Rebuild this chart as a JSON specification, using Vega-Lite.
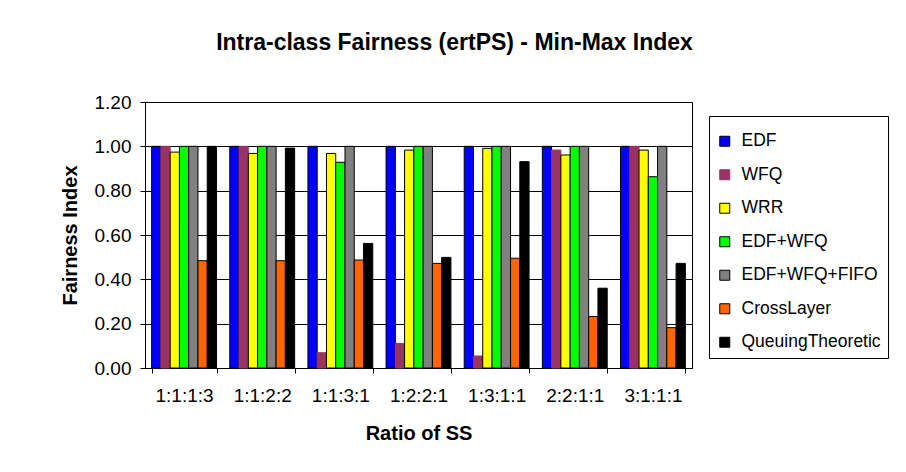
{
  "$schema": "https://vega.github.io/schema/vega-lite/v6.json",
  "autosize": {"type": "none"},
  "width": 547,
  "height": 266,
  "padding": {"left": 145, "top": 102, "right": 214, "bottom": 104},
  "background": "white",
  "title": {
    "text": "Intra-class Fairness (ertPS) - Min-Max Index",
    "font": "Liberation Sans",
    "fontSize": 23,
    "fontWeight": "bold",
    "color": "black",
    "anchor": "middle",
    "dx": 36,
    "offset": 38
  },
  "config": {
    "view": {"stroke": "black", "strokeWidth": 1},
    "axis": {
      "labelFont": "Liberation Sans",
      "titleFont": "Liberation Sans",
      "labelFontSize": 19,
      "titleFontSize": 20,
      "labelColor": "black",
      "titleColor": "black",
      "domainColor": "black",
      "tickColor": "black",
      "gridColor": "black",
      "gridOpacity": 1
    }
  },
  "data": {
    "values": [
      {"ratio": "1:1:1:3", "alg": "EDF", "v": 1.0},
      {"ratio": "1:1:1:3", "alg": "WFQ", "v": 1.0},
      {"ratio": "1:1:1:3", "alg": "WRR", "v": 0.974},
      {"ratio": "1:1:1:3", "alg": "EDF+WFQ", "v": 1.0},
      {"ratio": "1:1:1:3", "alg": "EDF+WFQ+FIFO", "v": 1.0},
      {"ratio": "1:1:1:3", "alg": "CrossLayer", "v": 0.484},
      {"ratio": "1:1:1:3", "alg": "QueuingTheoretic", "v": 1.0},
      {"ratio": "1:1:2:2", "alg": "EDF", "v": 1.0},
      {"ratio": "1:1:2:2", "alg": "WFQ", "v": 1.0},
      {"ratio": "1:1:2:2", "alg": "WRR", "v": 0.968},
      {"ratio": "1:1:2:2", "alg": "EDF+WFQ", "v": 1.0},
      {"ratio": "1:1:2:2", "alg": "EDF+WFQ+FIFO", "v": 1.0},
      {"ratio": "1:1:2:2", "alg": "CrossLayer", "v": 0.484},
      {"ratio": "1:1:2:2", "alg": "QueuingTheoretic", "v": 0.992},
      {"ratio": "1:1:3:1", "alg": "EDF", "v": 1.0},
      {"ratio": "1:1:3:1", "alg": "WFQ", "v": 0.069},
      {"ratio": "1:1:3:1", "alg": "WRR", "v": 0.968},
      {"ratio": "1:1:3:1", "alg": "EDF+WFQ", "v": 0.928},
      {"ratio": "1:1:3:1", "alg": "EDF+WFQ+FIFO", "v": 1.0},
      {"ratio": "1:1:3:1", "alg": "CrossLayer", "v": 0.487},
      {"ratio": "1:1:3:1", "alg": "QueuingTheoretic", "v": 0.562},
      {"ratio": "1:2:2:1", "alg": "EDF", "v": 1.0},
      {"ratio": "1:2:2:1", "alg": "WFQ", "v": 0.111},
      {"ratio": "1:2:2:1", "alg": "WRR", "v": 0.983},
      {"ratio": "1:2:2:1", "alg": "EDF+WFQ", "v": 1.0},
      {"ratio": "1:2:2:1", "alg": "EDF+WFQ+FIFO", "v": 1.0},
      {"ratio": "1:2:2:1", "alg": "CrossLayer", "v": 0.472},
      {"ratio": "1:2:2:1", "alg": "QueuingTheoretic", "v": 0.499},
      {"ratio": "1:3:1:1", "alg": "EDF", "v": 1.0},
      {"ratio": "1:3:1:1", "alg": "WFQ", "v": 0.054},
      {"ratio": "1:3:1:1", "alg": "WRR", "v": 0.991},
      {"ratio": "1:3:1:1", "alg": "EDF+WFQ", "v": 1.0},
      {"ratio": "1:3:1:1", "alg": "EDF+WFQ+FIFO", "v": 1.0},
      {"ratio": "1:3:1:1", "alg": "CrossLayer", "v": 0.495},
      {"ratio": "1:3:1:1", "alg": "QueuingTheoretic", "v": 0.931},
      {"ratio": "2:2:1:1", "alg": "EDF", "v": 1.0},
      {"ratio": "2:2:1:1", "alg": "WFQ", "v": 0.983},
      {"ratio": "2:2:1:1", "alg": "WRR", "v": 0.961},
      {"ratio": "2:2:1:1", "alg": "EDF+WFQ", "v": 1.0},
      {"ratio": "2:2:1:1", "alg": "EDF+WFQ+FIFO", "v": 1.0},
      {"ratio": "2:2:1:1", "alg": "CrossLayer", "v": 0.232},
      {"ratio": "2:2:1:1", "alg": "QueuingTheoretic", "v": 0.360},
      {"ratio": "3:1:1:1", "alg": "EDF", "v": 1.0},
      {"ratio": "3:1:1:1", "alg": "WFQ", "v": 1.0},
      {"ratio": "3:1:1:1", "alg": "WRR", "v": 0.983},
      {"ratio": "3:1:1:1", "alg": "EDF+WFQ", "v": 0.863},
      {"ratio": "3:1:1:1", "alg": "EDF+WFQ+FIFO", "v": 1.0},
      {"ratio": "3:1:1:1", "alg": "CrossLayer", "v": 0.182},
      {"ratio": "3:1:1:1", "alg": "QueuingTheoretic", "v": 0.472}
    ]
  },
  "mark": {"type": "bar", "strokeWidth": 1},
  "encoding": {
    "x": {
      "field": "ratio",
      "type": "nominal",
      "sort": ["1:1:1:3", "1:1:2:2", "1:1:3:1", "1:2:2:1", "1:3:1:1", "2:2:1:1", "3:1:1:1"],
      "scale": {"paddingInner": 0.17, "paddingOuter": 0.085},
      "axis": {
        "title": "Ratio of SS",
        "titleFontWeight": "bold",
        "titlePadding": 18,
        "labelAngle": 0,
        "labelPadding": 13,
        "tickBand": "extent",
        "tickSize": 5,
        "grid": false
      }
    },
    "xOffset": {
      "field": "alg",
      "type": "nominal",
      "sort": ["EDF", "WFQ", "WRR", "EDF+WFQ", "EDF+WFQ+FIFO", "CrossLayer", "QueuingTheoretic"],
      "scale": {"paddingInner": 0, "paddingOuter": 0}
    },
    "y": {
      "field": "v",
      "type": "quantitative",
      "scale": {"domain": [0, 1.2], "nice": false},
      "axis": {
        "title": "Fairness Index",
        "titleFontWeight": "bold",
        "titlePadding": 14,
        "values": [0, 0.2, 0.4, 0.6, 0.8, 1.0, 1.2],
        "format": ".2f",
        "tickSize": 5,
        "labelPadding": 9,
        "grid": true
      }
    },
    "color": {
      "field": "alg",
      "type": "nominal",
      "scale": {
        "domain": ["EDF", "WFQ", "WRR", "EDF+WFQ", "EDF+WFQ+FIFO", "CrossLayer", "QueuingTheoretic"],
        "range": ["#0000FF", "#993366", "#FFFF00", "#00FF00", "#808080", "#FF6600", "#000000"]
      },
      "legend": {
        "title": " ",
        "titleFontSize": 9.5,
        "titlePadding": 0,
        "orient": "none",
        "legendX": 564,
        "legendY": 14,
        "strokeColor": "black",
        "fillColor": "white",
        "padding": 7,
        "labelFont": "Liberation Sans",
        "labelFontSize": 17.5,
        "labelColor": "black",
        "symbolType": "square",
        "symbolSize": 100,
        "symbolStrokeWidth": 1,
        "symbolOpacity": 1,
        "rowPadding": 14.5,
        "labelOffset": 8
      }
    },
    "stroke": {
      "field": "alg",
      "type": "nominal",
      "scale": {
        "domain": ["EDF", "WFQ", "WRR", "EDF+WFQ", "EDF+WFQ+FIFO", "CrossLayer", "QueuingTheoretic"],
        "range": ["#000000", "#993366", "#000000", "#000000", "#000000", "#000000", "#000000"]
      },
      "legend": {
        "title": " ",
        "orient": "none",
        "legendX": 564,
        "legendY": 14
      }
    }
  }
}
